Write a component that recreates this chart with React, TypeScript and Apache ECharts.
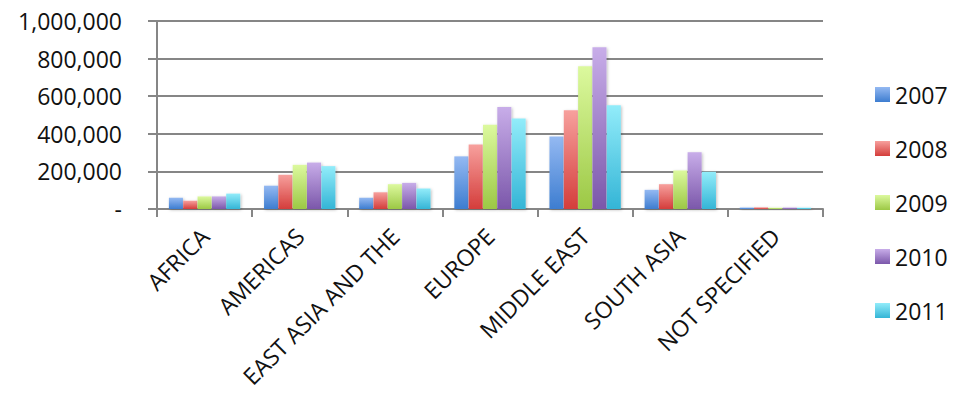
import React, { useEffect, useRef } from "react";
import * as echarts from "echarts";

// Regions on the horizontal axis
const regions = [
  "AFRICA",
  "AMERICAS",
  "EAST ASIA AND THE",
  "EUROPE",
  "MIDDLE EAST",
  "SOUTH ASIA",
  "NOT SPECIFIED",
];

const years = ["2007", "2008", "2009", "2010", "2011"];

// Values per year, one entry per region
const values2007 = [60000, 124000, 60000, 280000, 385000, 102000, 8000];
const values2008 = [44000, 182000, 89000, 343000, 525000, 132000, 9000];
const values2009 = [67000, 235000, 132000, 448000, 759000, 205000, 7000];
const values2010 = [67000, 247000, 139000, 543000, 861000, 302000, 8000];
const values2011 = [82000, 228000, 109000, 482000, 552000, 198000, 7000];

const yTicks = { min: 0, max: 1000000, interval: 200000 };

// Light top / darker bottom gradient per year
const palette: [string, string][] = [
  ["#94b9f2", "#3d7dd0"],
  ["#f7a09d", "#d43d3b"],
  ["#dcf99e", "#9cc845"],
  ["#c8ade9", "#7b57aa"],
  ["#92ecfa", "#34b5d6"],
];

const seriesValues = [values2007, values2008, values2009, values2010, values2011];

function fmt(v: number): string {
  if (v === 0) return "-";
  return v.toLocaleString("en-US");
}

export default function App() {
  const ref = useRef<HTMLDivElement>(null);

  useEffect(() => {
    if (!ref.current) return;
    const chart = echarts.init(ref.current, undefined, { renderer: "svg" });
    const font = "'Open Sans', 'Noto Sans', sans-serif";

    chart.setOption({
      animation: false,
      backgroundColor: "#ffffff",
      textStyle: { fontFamily: font },
      grid: { left: 157, right: 132, top: 21, bottom: 191, containLabel: false },
      legend: {
        orient: "vertical",
        left: 870,
        top: 78,
        itemWidth: 15,
        itemHeight: 15,
        itemGap: 31,
        icon: "rect",
        textStyle: { fontSize: 23, color: "#111111", fontFamily: font },
        data: years,
      },
      xAxis: {
        type: "category",
        data: regions,
        axisLine: { show: true, lineStyle: { color: "#868686", width: 2 } },
        axisTick: { show: true, length: 8, lineStyle: { color: "#868686", width: 2 } },
        axisLabel: {
          rotate: 45,
          interval: 0,
          margin: 23,
          fontSize: 23,
          color: "#111111",
          fontFamily: font,
        },
      },
      yAxis: {
        type: "value",
        min: yTicks.min,
        max: yTicks.max,
        interval: yTicks.interval,
        axisLine: { show: true, lineStyle: { color: "#868686", width: 2 } },
        axisTick: { show: true, length: 9, lineStyle: { color: "#868686", width: 2 } },
        splitLine: { show: true, lineStyle: { color: "#868686", width: 2 } },
        axisLabel: {
          formatter: (v: number) => fmt(v),
          margin: 35,
          fontSize: 23,
          color: "#111111",
          fontFamily: font,
        },
      },
      series: years.map((y, i) => ({
        name: y,
        type: "bar",
        data: seriesValues[i],
        barGap: "2%",
        barCategoryGap: "25%",
        itemStyle: {
          color: new echarts.graphic.LinearGradient(0, 0, 0, 1, [
            { offset: 0, color: palette[i][0] },
            { offset: 1, color: palette[i][1] },
          ]),
          shadowBlur: 3,
          shadowColor: "rgba(0,0,0,0.25)",
          shadowOffsetX: 1,
          shadowOffsetY: 1,
        },
      })),
    });

    return () => chart.dispose();
  }, []);

  return (
    <div
      ref={ref}
      style={{ position: "absolute", left: 0, top: 0, width: 955, height: 400 }}
    />
  );
}
